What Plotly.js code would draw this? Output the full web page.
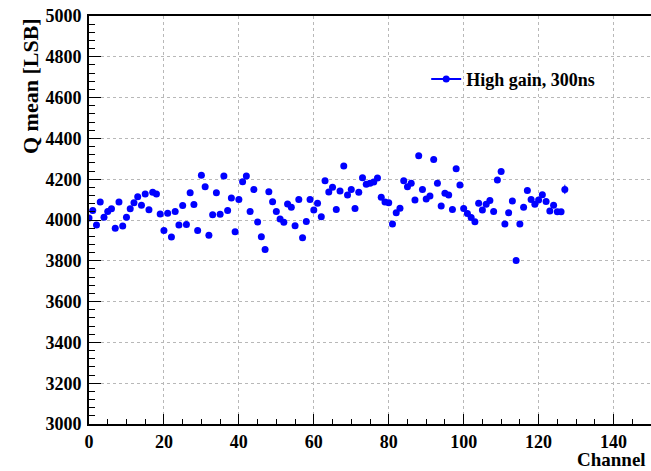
<!DOCTYPE html>
<html>
<head>
<meta charset="utf-8">
<script src="https://cdn.plot.ly/plotly-3.0.1.min.js"></script>
<style>html,body{margin:0;padding:0;background:#fff;}#chart{width:651px;height:471px;}</style>
</head>
<body>
<div id="chart"></div>
<script>
const channels = [0,1,2,3,4,5,6,7,8,9,10,11,12,13,14,15,16,17,18,19,
20,21,22,23,24,25,26,27,28,29,30,31,32,33,34,35,36,37,38,39,
40,41,42,43,44,45,46,47,48,49,50,51,52,53,54,55,56,57,58,59,
60,61,62,63,64,65,66,67,68,69,70,71,72,73,74,75,76,77,78,79,
80,81,82,83,84,85,86,87,88,89,90,91,92,93,94,95,96,97,98,99,
100,101,102,103,104,105,106,107,108,109,110,111,112,113,114,115,116,117,118,119,
120,121,122,123,124,125,126,127];
const qMean = [4010,4046,3975,4088,4013,4042,4055,3959,4088,3971,
4013,4055,4085,4114,4072,4127,4050,4136,4127,4030,
3948,4033,3917,4042,3975,4071,3978,4134,4076,3948,
4219,4163,3925,4026,4134,4028,4216,4047,4108,3943,
4101,4188,4216,4042,4150,3990,3918,3856,4139,4090,
4042,4005,3989,4078,4062,3972,4101,3913,3993,4101,
4049,4082,4016,4193,4137,4160,4051,4142,4265,4122,
4150,4056,4136,4207,4175,4180,4186,4206,4111,4088,
4085,3980,4036,4057,4193,4163,4180,4098,4315,4150,
4103,4118,4297,4180,4069,4131,4122,4052,4251,4172,
4056,4032,4012,3992,4082,4049,4077,4095,4042,4196,
4238,3980,4036,4093,3801,3980,4062,4144,4101,4077,
4098,4124,4091,4044,4072,4041,4041,4150];
const qErr = [4,4,4,4,4,4,4,4,4,4,4,4,4,4,4,4,4,4,4,4,
4,4,4,4,4,4,4,4,4,4,4,4,4,4,4,4,4,4,4,4,
4,4,4,4,4,4,4,4,4,4,4,4,4,4,4,4,4,4,4,4,
4,4,4,4,4,4,4,4,4,4,4,4,4,4,4,4,4,4,4,4,
4,4,4,4,4,4,4,4,4,4,4,4,4,4,4,4,4,4,4,4,
4,4,4,4,4,4,4,4,4,4,4,4,4,4,4,4,4,4,4,4,
4,4,4,4,4,4,4,23];
const seriesName = "High gain, 300ns";
const xTitle = "Channel";
const yTitle = "Q mean [LSB]";

const serif = "Liberation Serif";
const plotTrace = {
  x: channels, y: qMean, type: "scatter", mode: "markers", name: seriesName, showlegend: false,
  marker: {color: "#0000ff", size: 7, symbol: "circle"},
  error_y: {type: "data", array: qErr, visible: true, color: "#0000ff", thickness: 1, width: 0}
};
const legendTrace = {x: [null], y: [null], type: "scatter", mode: "lines+markers", name: seriesName,
  line: {color: "#0000ff", width: 2}, marker: {color: "#0000ff", size: 7}, showlegend: true};

const tickFont = {family: serif, size: 18, weight: "bold", color: "#000"};
const layout = {
  width: 651, height: 471,
  margin: {l: 89, r: 0, t: 16, b: 47},
  paper_bgcolor: "#fff", plot_bgcolor: "#fff",
  font: {family: serif, size: 18, color: "#000", weight: "bold"},
  showlegend: true,
  legend: {x: 0.60, y: 0.845, xanchor: "left", yanchor: "middle",
    bgcolor: "rgba(0,0,0,0)", borderwidth: 0,
    font: {family: serif, size: 18, weight: "bold", color: "#000"}},
  xaxis: {
    range: [0, 150], dtick: 20, tick0: 0,
    showline: true, linecolor: "#000", linewidth: 2, mirror: true,
    ticks: "inside", ticklen: 10, tickwidth: 1, tickcolor: "#000",
    showgrid: true, gridcolor: "#b8b8b8", griddash: "dot", gridwidth: 1,
    zeroline: false,
    tickfont: tickFont,
    minor: {dtick: 5, ticks: "inside", ticklen: 5, tickcolor: "#000", showgrid: false}
  },
  yaxis: {
    range: [3000, 5000], dtick: 200, tick0: 3000,
    showline: true, linecolor: "#000", linewidth: 2, mirror: false,
    ticks: "inside", ticklen: 12, tickwidth: 1, tickcolor: "#000",
    showgrid: true, gridcolor: "#b8b8b8", griddash: "dot", gridwidth: 1,
    zeroline: false, ticklabelstandoff: 2,
    tickfont: tickFont,
    minor: {dtick: 40, ticks: "inside", ticklen: 6, tickcolor: "#000", showgrid: false}
  },
  annotations: [
    {text: yTitle, xref: "paper", yref: "paper", x: -0.105, y: 1.0, xanchor: "center", yanchor: "top",
      textangle: -90, showarrow: false, font: {family: serif, size: 22, weight: "bold", color: "#000"}},
    {text: xTitle, xref: "paper", yref: "paper", x: 0.995, y: -0.0858, xanchor: "right", yanchor: "middle",
      showarrow: false, font: {family: serif, size: 19, weight: "bold", color: "#000"}}
  ]
};
Plotly.newPlot("chart", [plotTrace, legendTrace], layout, {displayModeBar: false, staticPlot: true});
</script>
</body>
</html>
